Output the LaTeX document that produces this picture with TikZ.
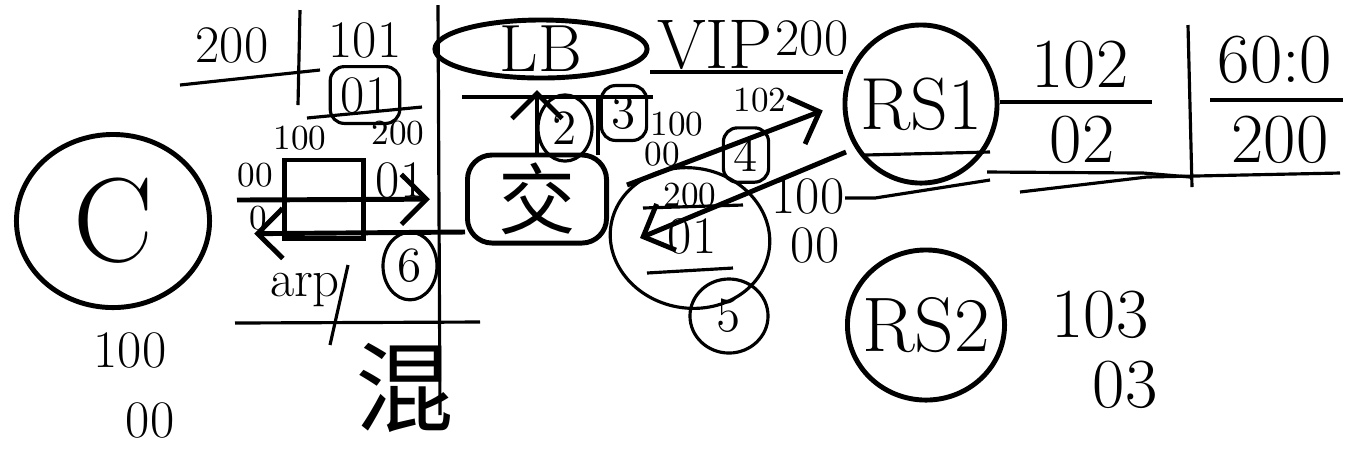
\documentclass[tikz,border=0pt]{standalone}
\usepackage{fontspec}
\newfontfamily\cjk{Noto Sans CJK SC}
\usetikzlibrary{positioning,arrows.meta,shapes.geometric}
\tikzset{hnode/.style={ellipse, draw, line width=1.4pt, inner sep=0pt}}
\tikzset{hbox/.style={rectangle, rounded corners=7pt, draw, line width=1.4pt, inner sep=0pt}}
\tikzset{hline/.style={line width=0.9pt}}
\tikzset{harrow/.style={-{Straight Barb[length=2.5mm, width=5mm]}, line width=1.4pt}}
\tikzset{hbig/.style={font=\fontsize{20}{20}\selectfont, inner sep=1pt}}
\tikzset{hnum/.style={font=\fontsize{15}{15}\selectfont, inner sep=1pt}}
\tikzset{hsmall/.style={font=\fontsize{10}{10}\selectfont, inner sep=1pt}}
\tikzset{hstep/.style={ellipse, draw, line width=0.9pt, inner sep=2pt, font=\fontsize{14}{14}\selectfont}}
\tikzset{hsq/.style={rectangle, rounded corners=4pt, draw, line width=0.9pt, inner sep=3pt, font=\fontsize{14}{14}\selectfont}}

\begin{document}
\begin{tikzpicture}[x=0.01cm, y=-0.01cm]
  \useasboundingbox (0,0) rectangle (1351,453);

  \node[hnode, minimum width=1.93cm, minimum height=1.73cm, label={[font=\fontsize{34}{34}\selectfont]center:C}] (client) at (113,221) {};
  \node[hnode, minimum width=2.12cm, minimum height=0.58cm, label={[font=\fontsize{19}{19}\selectfont]center:LB}] (lb) at (541,49) {};
  \node[hbox, minimum width=1.39cm, minimum height=0.88cm, font=\cjk\fontsize{22}{22}\selectfont] (switch) at (537,199) {交};
  \node[hnode, minimum width=1.52cm, minimum height=1.58cm, label={[font=\fontsize{21}{21}\selectfont]center:RS1}] (rs1) at (921,104) {};
  \node[hnode, minimum width=1.57cm, minimum height=1.50cm, label={[font=\fontsize{22}{22}\selectfont]center:RS2}] (rs2) at (926,325) {};
  \node[draw, line width=1.4pt, minimum width=0.79cm, minimum height=0.78cm] (frame) at (324,199) {};
  \node[hnode, line width=0.9pt, minimum width=1.60cm, minimum height=1.40cm, rotate=-10] (blob) at (690,238) {};

  \node[hnum] (cip) at (130,350) {100};
  \node[hnum] (cmac) at (150,420) {00};
  \node[hnum] (tl200) at (232,45) {200};
  \node[hnum] (tl101) at (365,40) {101};
  \node[hsq, font=\fontsize{15}{15}\selectfont] (tl01) at (365,95) {01};
  \node[hsmall] (f100) at (300,138) {100};
  \node[hsmall] (f200) at (398,133) {200};
  \node[hsmall] (f00) at (255,175) {00};
  \node[hsmall] (f0) at (258,218) {0};
  \node[hnum] (f01) at (400,180) {01};
  \node[hnum] (arp) at (305,290) {arp};
  \node[hstep] (s6) at (410,266) {6};
  \node[font=\cjk\fontsize{28}{28}\selectfont] (mix) at (405,388) {混};

  \node[hbig] (vip) at (715,45) {VIP};
  \node[hnum] (vip200) at (812,38) {200};
  \node[hstep] (s2) at (565,128) {2};
  \node[hsq] (s3) at (624,113) {3};
  \node[hsmall] (d100) at (677,124) {100};
  \node[hsmall] (d00) at (662,154) {00};
  \node[hsmall] (d102) at (760,100) {102};
  \node[hsq] (s4) at (746,155) {4};
  \node[hsmall] (b200) at (690,195) {200};
  \node[hnum] (b01) at (692,236) {01};
  \node[hstep, minimum width=0.78cm, minimum height=0.74cm] (s5) at (729,316) {5};
  \node[hnum] (r100) at (808,196) {100};
  \node[hnum] (r00) at (815,245) {00};

  \node[hbig] (rs1ip) at (1080,65) {102};
  \node[hbig] (rs1mac) at (1082,140) {02};
  \node[hbig] (vmac) at (1275,60) {60:0};
  \node[hbig] (vip2) at (1280,140) {200};
  \node[hbig] (rs2ip) at (1100,315) {103};
  \node[hbig] (rs2mac) at (1125,385) {03};

  \draw[harrow, shorten >=10pt] (237,200) -- (switch.west);
  \draw[harrow, shorten >=12pt] (switch.west |- 0,232) -- (client.east |- 0,234);
  \draw[harrow] (switch.north -| 537,0) -- (537,90);
  \draw[harrow, shorten >=6pt] (627,185) -- (rs1.west |- 0,103);
  \draw[harrow] (846,152) -- (640,238);

  \draw[hline] (180,85) -- (320,70);
  \draw[hline] (300,10) -- (298,105);
  \draw[hline] (307,118) -- (422,107);
  \draw[hline] (438,5) -- (440,415);
  \draw[hline] (235,323) -- (480,322);
  \draw[hline] (348,265) -- (330,345);
  \draw[hline] (462,97) -- (653,97);
  \draw[hline] (598,97) -- (598,155);
  \draw[hline] (650,72) -- (rs1.west |- 0,72);
  \draw[hline] (643,208) -- (743,205);
  \draw[hline] (647,273) -- (733,268);
  \draw[hline] (845,198) -- (875,198) -- (990,180);
  \draw[hline] (865,155) -- (990,152);
  \draw[hline] (987,172) -- (1143,173) -- (1190,177);
  \draw[hline] (1020,192) -- (1147,177) -- (1340,173);
  \draw[hline] (rs1.east |- 0,102) -- (1152,102);
  \draw[hline] (1188,25) -- (1192,187);
  \draw[hline] (1210,100) -- (1343,100);
\end{tikzpicture}
\end{document}
